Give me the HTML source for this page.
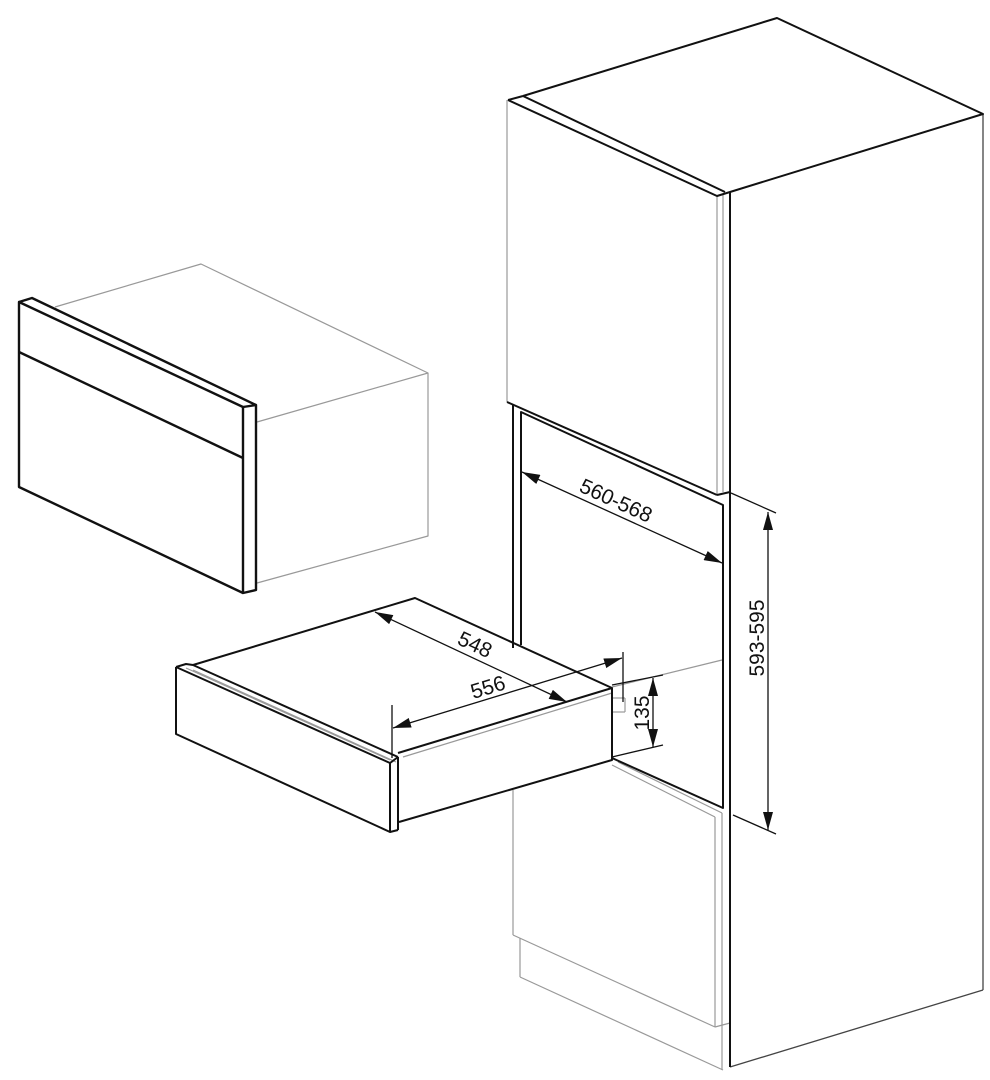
<!DOCTYPE html>
<html><head><meta charset="utf-8"><style>html,body{margin:0;padding:0;background:#fff}svg{display:block}</style></head>
<body>
<svg width="990" height="1080" viewBox="0 0 990 1080" xmlns="http://www.w3.org/2000/svg">
<defs>
<marker id="b" viewBox="0 0 10 10" refX="10" refY="5" markerWidth="18" markerHeight="10" markerUnits="userSpaceOnUse" orient="auto-start-reverse" preserveAspectRatio="none">
<path d="M0,0 L10,5 L0,10 z" fill="#111"/></marker>
</defs>
<g fill="none" stroke-linejoin="round">
<g stroke="#999" stroke-width="1.2">
<line x1="507" y1="100" x2="507" y2="402"/>
<line x1="717" y1="197" x2="717" y2="495"/>
<line x1="723" y1="194" x2="723" y2="492"/>
<line x1="612" y1="687" x2="722" y2="660"/>
<line x1="612" y1="765" x2="715" y2="817"/>
<line x1="618" y1="762" x2="722" y2="813"/>
<line x1="513" y1="790" x2="513" y2="935"/>
<line x1="513" y1="935" x2="715" y2="1027"/>
<line x1="715" y1="817" x2="715" y2="1027"/>
<line x1="722" y1="813" x2="722" y2="1070"/>
<line x1="520" y1="938" x2="520" y2="977"/>
<line x1="520" y1="977" x2="723" y2="1070"/>
<line x1="715" y1="1027" x2="730" y2="1023"/>
</g>
<g stroke="#444" stroke-width="1.3">
<line x1="983" y1="114" x2="983" y2="990"/>
<line x1="983" y1="990" x2="730" y2="1067"/>
</g>
<g stroke="#111" stroke-width="2">
<polyline points="508,100 717,196 730,192 983,114 777,18 523,96"/>
<line x1="508" y1="100" x2="523" y2="96"/>
<line x1="523" y1="96" x2="725" y2="192"/>
<line x1="730" y1="192" x2="730" y2="1067"/>
<line x1="507" y1="402" x2="717" y2="495"/>
<line x1="717" y1="495" x2="730" y2="492"/>
<line x1="513" y1="405" x2="513" y2="648"/>
<polyline points="521,645 521,412 723,505 723,808 612,758"/>
</g>
<g stroke="#999" stroke-width="1.2">
<polyline points="55,307 201,264 428,373 428,536 257,583"/>
<line x1="257" y1="422" x2="428" y2="373"/>
</g>
<g stroke="#111" stroke-width="2.4">
<polyline points="19,302 32,298 256,405 256,590 243,593 19,487 19,302 243,407 256,405"/>
<line x1="243" y1="407" x2="243" y2="593"/>
<line x1="19" y1="352" x2="243" y2="458"/>
</g>
<g stroke="#999" stroke-width="1.2">
<line x1="193" y1="670" x2="396" y2="762"/>
<line x1="186" y1="668" x2="390" y2="760"/>
<line x1="403" y1="757" x2="612" y2="693"/>
<line x1="612" y1="698" x2="625" y2="698"/>
<line x1="612" y1="712" x2="625" y2="712"/>
<line x1="625" y1="698" x2="625" y2="712"/>
</g>
<g stroke="#111" stroke-width="2">
<polyline points="193,665 415,598 612,688 612,760 399,822"/>
<line x1="398" y1="753" x2="612" y2="688"/>
<polyline points="176,667 186,664 193,665 398,757"/>
<polyline points="176,667 390,763 390,832 176,734 176,667"/>
<line x1="398" y1="757" x2="398" y2="830"/>
<line x1="390" y1="832" x2="398" y2="830"/>
<line x1="390" y1="763" x2="398" y2="757"/>
</g>
<g stroke="#111" stroke-width="1.3">
<line x1="392" y1="705" x2="392" y2="758"/>
<line x1="623" y1="652" x2="623" y2="702"/>
<line x1="612" y1="685" x2="663" y2="675"/>
<line x1="612" y1="757" x2="663" y2="745"/>
<line x1="731" y1="493" x2="776" y2="513"/>
<line x1="733" y1="815" x2="776" y2="834"/>
<line x1="375" y1="612" x2="567" y2="702" marker-start="url(#b)" marker-end="url(#b)"/>
<line x1="393" y1="728" x2="622" y2="658" marker-start="url(#b)" marker-end="url(#b)"/>
<line x1="522" y1="472" x2="722" y2="563" marker-start="url(#b)" marker-end="url(#b)"/>
<line x1="768" y1="512" x2="768" y2="830" marker-start="url(#b)" marker-end="url(#b)"/>
<line x1="653" y1="678" x2="653" y2="747" marker-start="url(#b)" marker-end="url(#b)"/>
</g>
</g>
<g font-family="Liberation Sans, sans-serif" font-size="21" fill="#111" text-anchor="middle">
<text transform="translate(613,507) rotate(24.5)">560-568</text>
<text transform="translate(472,651) rotate(25)">548</text>
<text transform="translate(490,694) rotate(-17)">556</text>
<text transform="translate(764,638) rotate(-90)">593-595</text>
<text transform="translate(649,713) rotate(-90)">135</text>
</g>
</svg>
</body></html>
